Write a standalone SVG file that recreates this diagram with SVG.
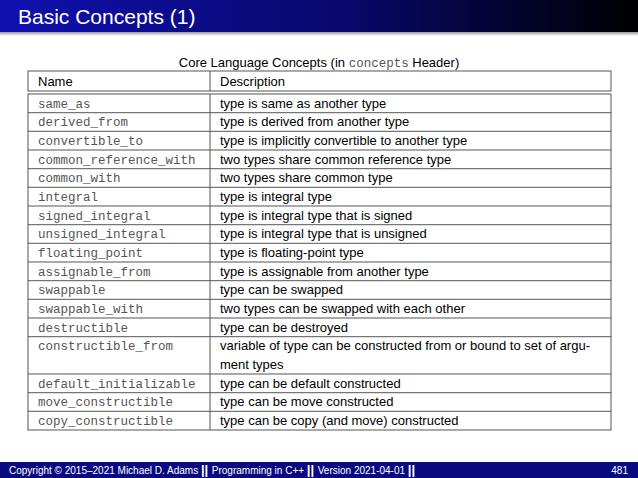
<svg xmlns="http://www.w3.org/2000/svg" width="638" height="478" viewBox="0 0 638 478">
<defs>
<linearGradient id="tg" x1="0" x2="1" y1="0" y2="0"><stop offset="0" stop-color="#1010b0"/><stop offset="0.55" stop-color="#08086a"/><stop offset="1" stop-color="#000000"/></linearGradient>
<linearGradient id="sh" x1="0" x2="0" y1="0" y2="1"><stop offset="0" stop-color="#999"/><stop offset="1" stop-color="#fff"/></linearGradient>
</defs>
<style>
.s{font-family:"Liberation Sans",Arial,sans-serif;font-size:13px;fill:#000}
.m{font-family:"Liberation Mono","Courier New",monospace;font-size:12.5px;fill:#555}
.l{stroke:#555;stroke-width:1;fill:none}
.f{font-family:"Liberation Sans",Arial,sans-serif;font-size:10px;fill:#fff}
</style>
<rect width="638" height="478" fill="#fff"/>
<g id="title"><rect x="0" y="0" width="638" height="32" fill="url(#tg)"/><rect x="0" y="32" width="638" height="4" fill="url(#sh)"/>
<text x="18" y="24" font-family="Liberation Sans,Arial,sans-serif" font-size="21" fill="#fff">Basic Concepts (1)</text></g>
<text class="s" x="319" y="67" text-anchor="middle">Core Language Concepts (in <tspan class="m">concepts</tspan> Header)</text>
<g id="table">
<rect class="l" x="28" y="71" width="583" height="20"/>
<rect class="l" x="28" y="94" width="583" height="336"/>
<line class="l" x1="210" y1="71" x2="210" y2="91"/>
<line class="l" x1="210" y1="94" x2="210" y2="430"/>
<text class="s" x="38" y="86">Name</text><text class="s" x="220" y="86">Description</text>
<g class="l">
<line x1="28" y1="112.7" x2="611" y2="112.7"/><line x1="28" y1="131.3" x2="611" y2="131.3"/><line x1="28" y1="150" x2="611" y2="150"/><line x1="28" y1="168.7" x2="611" y2="168.7"/><line x1="28" y1="187.3" x2="611" y2="187.3"/><line x1="28" y1="206" x2="611" y2="206"/><line x1="28" y1="224.7" x2="611" y2="224.7"/><line x1="28" y1="243.3" x2="611" y2="243.3"/><line x1="28" y1="262" x2="611" y2="262"/><line x1="28" y1="280.7" x2="611" y2="280.7"/><line x1="28" y1="299.3" x2="611" y2="299.3"/><line x1="28" y1="318" x2="611" y2="318"/><line x1="28" y1="336.7" x2="611" y2="336.7"/><line x1="28" y1="374" x2="611" y2="374"/><line x1="28" y1="392.7" x2="611" y2="392.7"/><line x1="28" y1="411.3" x2="611" y2="411.3"/>
</g>
<g class="m">
<text x="38" y="107.5">same_as</text><text x="38" y="126.2">derived_from</text><text x="38" y="144.8">convertible_to</text><text x="38" y="163.5">common_reference_with</text><text x="38" y="182.2">common_with</text><text x="38" y="200.8">integral</text><text x="38" y="219.5">signed_integral</text><text x="38" y="238.2">unsigned_integral</text><text x="38" y="256.8">floating_point</text><text x="38" y="275.5">assignable_from</text><text x="38" y="294.2">swappable</text><text x="38" y="312.8">swappable_with</text><text x="38" y="331.5">destructible</text><text x="38" y="350.2">constructible_from</text><text x="38" y="387.5">default_initializable</text><text x="38" y="406.2">move_constructible</text><text x="38" y="424.8">copy_constructible</text>
</g>
<g class="s">
<text x="220" y="107.5">type is same as another type</text><text x="220" y="126.2">type is derived from another type</text><text x="220" y="144.8">type is implicitly convertible to another type</text><text x="220" y="163.5">two types share common reference type</text><text x="220" y="182.2">two types share common type</text><text x="220" y="200.8">type is integral type</text><text x="220" y="219.5">type is integral type that is signed</text><text x="220" y="238.2">type is integral type that is unsigned</text><text x="220" y="256.8">type is floating-point type</text><text x="220" y="275.5">type is assignable from another type</text><text x="220" y="294.2">type can be swapped</text><text x="220" y="312.8">two types can be swapped with each other</text><text x="220" y="331.5">type can be destroyed</text><text x="220" y="350.2">variable of type can be constructed from or bound to set of argu-</text><text x="220" y="368.8">ment types</text><text x="220" y="387.5">type can be default constructed</text><text x="220" y="406.2">type can be move constructed</text><text x="220" y="424.8">type can be copy (and move) constructed</text>
</g>
</g>
<g id="footer"><rect x="0" y="462" width="638" height="16" fill="#0a0a80"/>
<text class="f" x="9" y="474">Copyright © 2015–2021 Michael D. Adams <tspan font-weight="bold" font-size="13">  ||  </tspan> Programming in C++ <tspan font-weight="bold" font-size="13">  ||  </tspan> Version 2021-04-01 <tspan font-weight="bold" font-size="13">  ||</tspan></text>
<text class="f" x="628" y="474" text-anchor="end">481</text></g>
</svg>
